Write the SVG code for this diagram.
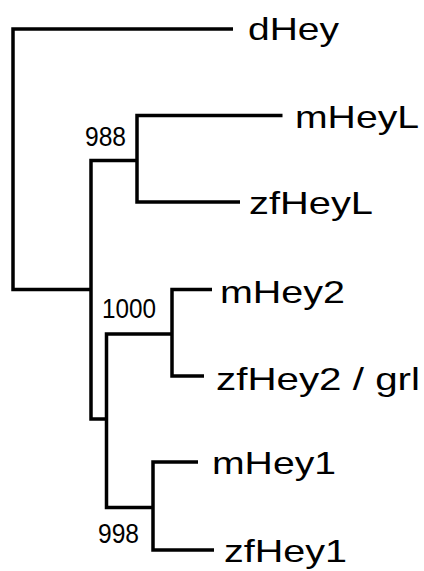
<svg xmlns="http://www.w3.org/2000/svg" width="424" height="571" viewBox="0 0 424 571">
  <style>
    .branch { fill: none; stroke: #000; stroke-width: 3.5; stroke-linejoin: miter; stroke-linecap: butt; }
    .tip { font-family: "Liberation Sans", Arial, sans-serif; font-size: 32px; fill: #000; }
    .boot { font-family: "Liberation Sans", Arial, sans-serif; font-size: 28px; fill: #000; }
  </style>
  <rect width="424" height="571" fill="#fff"/>

  <!-- tree branches (rectangular cladogram) -->
  <g id="connectors">
    <!-- root: dHey vs. vertebrate Hey genes -->
    <path class="branch" d="M233,29 H13 V289.5 H91"/>
    <!-- vertebrate node: HeyL clade vs. Hey1/Hey2 -->
    <path class="branch" d="M137,160.5 H91 V419 H106.5"/>
    <!-- HeyL clade -->
    <path class="branch" d="M282.5,115.5 H137 V202 H240"/>
    <!-- Hey1/Hey2 node -->
    <path class="branch" d="M172,334 H106.5 V507.5 H153"/>
    <!-- Hey2 clade -->
    <path class="branch" d="M212,289.5 H172 V376 H204"/>
    <!-- Hey1 clade -->
    <path class="branch" d="M198,462 H153 V550 H214"/>
  </g>

  <!-- leaves -->
  <g id="dHey"><text class="tip" x="248" y="40" textLength="91" lengthAdjust="spacingAndGlyphs">dHey</text></g>
  <g id="mHeyL"><text class="tip" x="295" y="128" textLength="124" lengthAdjust="spacingAndGlyphs">mHeyL</text></g>
  <g id="zfHeyL"><text class="tip" x="249" y="214" textLength="124" lengthAdjust="spacingAndGlyphs">zfHeyL</text></g>
  <g id="mHey2"><text class="tip" x="220" y="303" textLength="125" lengthAdjust="spacingAndGlyphs">mHey2</text></g>
  <g id="zfHey2"><text class="tip" x="216" y="390" textLength="204" lengthAdjust="spacingAndGlyphs">zfHey2 / grl</text></g>
  <g id="mHey1"><text class="tip" x="212" y="474" textLength="124" lengthAdjust="spacingAndGlyphs">mHey1</text></g>
  <g id="zfHey1"><text class="tip" x="224" y="562" textLength="123" lengthAdjust="spacingAndGlyphs">zfHey1</text></g>

  <!-- bootstrap support values -->
  <g id="boot-988"><text class="boot" x="85" y="146" textLength="41" lengthAdjust="spacingAndGlyphs">988</text></g>
  <g id="boot-1000"><text class="boot" x="102" y="318" textLength="54" lengthAdjust="spacingAndGlyphs">1000</text></g>
  <g id="boot-998"><text class="boot" x="98" y="543" textLength="41" lengthAdjust="spacingAndGlyphs">998</text></g>
</svg>
